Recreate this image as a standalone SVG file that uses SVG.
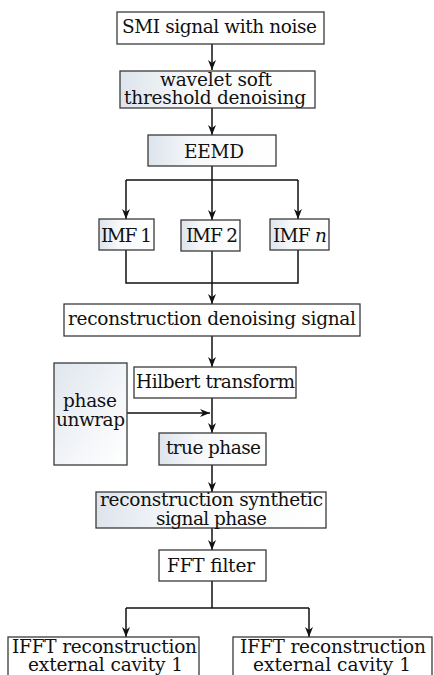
<svg xmlns="http://www.w3.org/2000/svg" width="434" height="675" viewBox="0 0 434 675">
<style>
.box{stroke:#3a3a3a;stroke-width:1.3;fill:#fff}
.g{fill:url(#grad)}
.gv{fill:url(#gradv)}
text{font-family:"DejaVu Serif","Liberation Serif",serif;font-size:18.5px;fill:#111;text-anchor:middle}
.ln{stroke:#111;stroke-width:1.5;fill:none}
.ar{stroke:#111;stroke-width:1.5;fill:none;marker-end:url(#ah)}
</style>
<defs>
<linearGradient id="grad" x1="0" y1="0" x2="1" y2="0">
<stop offset="0" stop-color="#dde4ec"/>
<stop offset="0.35" stop-color="#f6f8fa"/>
<stop offset="1" stop-color="#ffffff"/>
</linearGradient>
<linearGradient id="gradv" x1="0" y1="0" x2="1" y2="1">
<stop offset="0" stop-color="#dfe6ee"/>
<stop offset="0.6" stop-color="#f4f6f9"/>
<stop offset="1" stop-color="#ffffff"/>
</linearGradient>
<marker id="ah" markerUnits="userSpaceOnUse" markerWidth="11" markerHeight="9" refX="10" refY="4" orient="auto">
<path d="M0,0 L10,4 L0,8 L3,4 z" fill="#111"/>
</marker>
</defs>

<g id="connectors">
<line class="ar" x1="212" y1="44" x2="212" y2="70"/>
<line class="ar" x1="212" y1="108" x2="212" y2="135"/>
<polyline class="ln" points="212,166 212,180"/>
<polyline class="ln" points="126,180 298,180"/>
<line class="ar" x1="126" y1="180" x2="126" y2="219"/>
<line class="ar" x1="212" y1="180" x2="212" y2="220"/>
<line class="ar" x1="298" y1="180" x2="298" y2="219"/>
<polyline class="ln" points="126,250 126,283 298,283 298,250"/>
<line class="ar" x1="212" y1="251" x2="212" y2="304"/>
<line class="ar" x1="212" y1="336" x2="212" y2="367"/>
<line class="ar" x1="212" y1="398" x2="212" y2="433"/>
<line class="ar" x1="127" y1="413" x2="210" y2="413"/>
<line class="ar" x1="212" y1="465" x2="212" y2="492"/>
<line class="ar" x1="212" y1="528" x2="212" y2="550"/>
<polyline class="ln" points="212,581 212,608"/>
<polyline class="ln" points="126,608 309,608"/>
<line class="ar" x1="126" y1="608" x2="126" y2="637"/>
<line class="ar" x1="309" y1="608" x2="309" y2="637"/>
</g>

<g id="smi">
<rect class="box" x="117" y="12" width="207" height="32"/>
<text x="219.5" y="33" textLength="195">SMI signal with noise</text>
</g>
<g id="wavelet">
<rect class="box g" x="120" y="71" width="195" height="37"/>
<text x="216" y="86" textLength="112">wavelet soft</text>
<text x="215" y="104" textLength="182">threshold denoising</text>
</g>
<g id="eemd">
<rect class="box g" x="148" y="135" width="128" height="31"/>
<text x="214" y="158" textLength="60">EEMD</text>
</g>
<g id="imf1">
<rect class="box g" x="99" y="219" width="55" height="31"/>
<text x="126.5" y="242" textLength="51">IMF 1</text>
</g>
<g id="imf2">
<rect class="box g" x="181" y="220" width="59" height="31"/>
<text x="212" y="242" textLength="52">IMF 2</text>
</g>
<g id="imfn">
<rect class="box g" x="270" y="219" width="59" height="31"/>
<text x="300" y="242" textLength="54">IMF <tspan font-style="italic">n</tspan></text>
</g>
<g id="recon-denoise">
<rect class="box" x="64" y="304" width="296" height="32"/>
<text x="212" y="325" textLength="288">reconstruction denoising signal</text>
</g>
<g id="hilbert">
<rect class="box" x="134" y="367" width="162" height="31"/>
<text x="215.5" y="388" textLength="159">Hilbert transform</text>
</g>
<g id="unwrap">
<rect class="box gv" x="54" y="363" width="73" height="102"/>
<text x="90" y="407" textLength="54">phase</text>
<text x="90.5" y="426" textLength="69">unwrap</text>
</g>
<g id="truephase">
<rect class="box g" x="159" y="433" width="107" height="32"/>
<text x="213.5" y="454" textLength="95">true phase</text>
</g>
<g id="recon-synth">
<rect class="box g" x="96" y="492" width="230" height="36"/>
<text x="211.5" y="506" textLength="223">reconstruction synthetic</text>
<text x="211.5" y="525" textLength="111">signal phase</text>
</g>
<g id="fft">
<rect class="box" x="159" y="550" width="107" height="31"/>
<text x="211" y="572" textLength="88">FFT filter</text>
</g>
<g id="ifft1">
<rect class="box" x="8" y="637" width="191" height="50"/>
<text x="104.5" y="653" textLength="185">IFFT reconstruction</text>
<text x="105.5" y="671" textLength="155">external cavity 1</text>
</g>
<g id="ifft2">
<rect class="box" x="233" y="637" width="199" height="50"/>
<text x="333" y="653" textLength="186">IFFT reconstruction</text>
<text x="332" y="671" textLength="158">external cavity 1</text>
</g>
</svg>
